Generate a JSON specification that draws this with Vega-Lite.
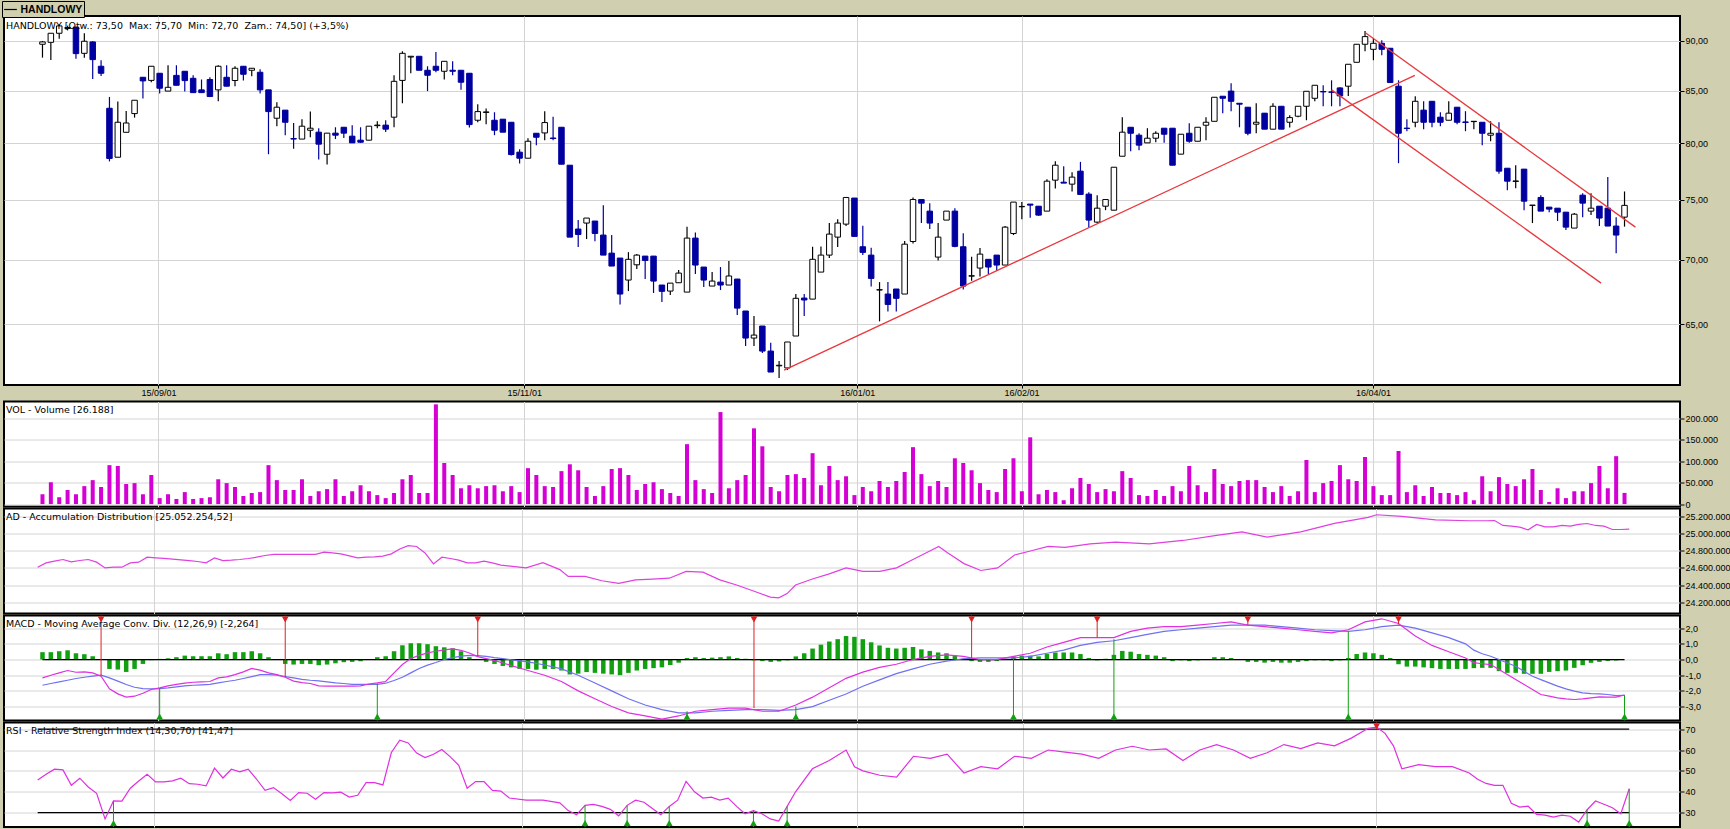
{
"$schema":"https://vega.github.io/schema/vega-lite/v6.json",
"background":"#d0d0b0",
"padding":{"left":1,"top":0,"right":0,"bottom":0},
"config":{
 "locale":{"number":{"decimal":",","thousands":".","grouping":[3],"currency":["",""],"minus":"-"}},
 "view":{"stroke":"black","strokeWidth":2,"fill":"white"},
 "axis":{"labelFont":"Liberation Sans","labelFontSize":9,"labelColor":"black","gridColor":"#d4d4d4","domain":false,"tickColor":"black","tickSize":4,"labelPadding":1,"title":null,"labelOverlap":false,"labelBound":false},
 "title":{"font":"DejaVu Sans","fontSize":9.5,"fontWeight":"normal","anchor":"start","frame":"group","color":"black","baseline":"top","offset":0,"dx":2}
},
"datasets":{
"c":[
{"i":0,"o":89.66,"h":90.0,"l":88.29,"c":89.9,"v":23000},
{"i":1,"o":89.86,"h":90.8,"l":88.04,"c":90.8,"v":51000},
{"i":2,"o":90.8,"h":91.75,"l":90.24,"c":91.57,"v":16000},
{"i":3,"o":91.3,"h":91.6,"l":91.1,"c":91.4,"v":33000},
{"i":4,"o":91.45,"h":91.45,"l":88.19,"c":88.7,"v":23000},
{"i":5,"o":88.73,"h":90.8,"l":88.29,"c":89.97,"v":42000},
{"i":6,"o":89.9,"h":89.97,"l":86.14,"c":88.09,"v":56000},
{"i":7,"o":87.42,"h":88.03,"l":86.45,"c":86.72,"v":40000},
{"i":8,"o":83.3,"h":84.39,"l":78.36,"c":78.63,"v":91000},
{"i":9,"o":78.74,"h":83.94,"l":78.74,"c":81.97,"v":89000},
{"i":10,"o":81.03,"h":83.04,"l":81.03,"c":81.9,"v":47000},
{"i":11,"o":82.79,"h":84.07,"l":82.41,"c":84.07,"v":49000},
{"i":12,"o":86.32,"h":86.32,"l":84.23,"c":85.96,"v":23000},
{"i":13,"o":86.01,"h":87.42,"l":85.82,"c":87.42,"v":68000},
{"i":14,"o":86.72,"h":86.72,"l":84.72,"c":85.24,"v":14000},
{"i":15,"o":84.96,"h":87.52,"l":84.96,"c":85.33,"v":23000},
{"i":16,"o":86.51,"h":87.52,"l":85.53,"c":85.53,"v":12000},
{"i":17,"o":86.92,"h":86.92,"l":84.93,"c":85.99,"v":28000},
{"i":18,"o":86.22,"h":86.51,"l":84.81,"c":84.81,"v":12000},
{"i":19,"o":85.08,"h":86.1,"l":84.81,"c":84.81,"v":14000},
{"i":20,"o":86.1,"h":86.32,"l":84.43,"c":84.43,"v":16000},
{"i":21,"o":85.08,"h":87.52,"l":83.97,"c":87.42,"v":58000},
{"i":22,"o":86.32,"h":87.52,"l":85.44,"c":85.44,"v":49000},
{"i":23,"o":86.0,"h":87.42,"l":85.44,"c":87.22,"v":40000},
{"i":24,"o":87.42,"h":87.42,"l":86.0,"c":86.62,"v":19000},
{"i":25,"o":87.02,"h":87.22,"l":86.42,"c":87.22,"v":26000},
{"i":26,"o":86.82,"h":87.12,"l":84.73,"c":85.08,"v":28000},
{"i":27,"o":85.08,"h":85.08,"l":79.01,"c":82.98,"v":91000},
{"i":28,"o":82.35,"h":83.88,"l":81.6,"c":83.4,"v":56000},
{"i":29,"o":83.12,"h":83.12,"l":80.76,"c":81.97,"v":33000},
{"i":30,"o":80.45,"h":81.9,"l":79.5,"c":80.4,"v":33000},
{"i":31,"o":80.4,"h":82.25,"l":80.4,"c":81.6,"v":58000},
{"i":32,"o":81.22,"h":82.98,"l":80.58,"c":81.41,"v":19000},
{"i":33,"o":81.04,"h":81.41,"l":78.53,"c":79.93,"v":30000},
{"i":34,"o":79.01,"h":80.95,"l":78.08,"c":80.95,"v":35000},
{"i":35,"o":80.95,"h":81.5,"l":80.4,"c":80.76,"v":58000},
{"i":36,"o":81.5,"h":81.5,"l":80.5,"c":80.95,"v":19000},
{"i":37,"o":80.67,"h":81.69,"l":80.05,"c":80.05,"v":30000},
{"i":38,"o":80.3,"h":81.5,"l":80.05,"c":80.11,"v":44000},
{"i":39,"o":80.3,"h":81.6,"l":80.3,"c":81.6,"v":30000},
{"i":40,"o":81.65,"h":82.06,"l":81.41,"c":81.7,"v":21000},
{"i":41,"o":81.7,"h":82.15,"l":81.06,"c":81.32,"v":14000},
{"i":42,"o":82.45,"h":86.52,"l":81.5,"c":85.92,"v":26000},
{"i":43,"o":86.01,"h":88.94,"l":83.78,"c":88.73,"v":58000},
{"i":44,"o":88.35,"h":88.43,"l":86.72,"c":88.43,"v":68000},
{"i":45,"o":88.43,"h":88.43,"l":87.02,"c":87.02,"v":26000},
{"i":46,"o":87.02,"h":87.42,"l":84.96,"c":86.52,"v":26000},
{"i":47,"o":87.42,"h":88.87,"l":86.82,"c":87.02,"v":233000},
{"i":48,"o":86.92,"h":87.92,"l":86.1,"c":87.92,"v":96000},
{"i":49,"o":87.02,"h":87.92,"l":86.52,"c":86.92,"v":68000},
{"i":50,"o":87.02,"h":87.02,"l":85.08,"c":85.83,"v":37000},
{"i":51,"o":86.72,"h":86.72,"l":81.47,"c":81.75,"v":44000},
{"i":52,"o":82.16,"h":83.69,"l":81.97,"c":82.98,"v":37000},
{"i":53,"o":82.9,"h":83.27,"l":81.79,"c":82.95,"v":42000},
{"i":54,"o":82.16,"h":82.92,"l":80.76,"c":81.22,"v":44000},
{"i":55,"o":82.26,"h":82.26,"l":81.04,"c":81.04,"v":30000},
{"i":56,"o":81.97,"h":81.97,"l":78.89,"c":78.98,"v":42000},
{"i":57,"o":79.2,"h":79.47,"l":78.17,"c":78.65,"v":28000},
{"i":58,"o":78.65,"h":80.48,"l":78.65,"c":80.2,"v":84000},
{"i":59,"o":80.94,"h":80.94,"l":79.84,"c":80.57,"v":68000},
{"i":60,"o":80.97,"h":83.02,"l":80.3,"c":81.94,"v":42000},
{"i":61,"o":80.5,"h":82.48,"l":80.3,"c":80.45,"v":40000},
{"i":62,"o":81.5,"h":81.5,"l":78.11,"c":78.11,"v":77000},
{"i":63,"o":78.02,"h":78.02,"l":71.83,"c":71.83,"v":93000},
{"i":64,"o":72.5,"h":73.25,"l":71.01,"c":72.05,"v":79000},
{"i":65,"o":73.0,"h":73.42,"l":71.67,"c":73.42,"v":40000},
{"i":66,"o":73.17,"h":73.17,"l":71.48,"c":72.13,"v":19000},
{"i":67,"o":72.0,"h":74.52,"l":70.36,"c":70.36,"v":42000},
{"i":68,"o":70.52,"h":72.0,"l":69.48,"c":69.48,"v":82000},
{"i":69,"o":70.12,"h":70.12,"l":66.48,"c":67.28,"v":84000},
{"i":70,"o":68.37,"h":70.6,"l":67.51,"c":70.02,"v":68000},
{"i":71,"o":69.58,"h":70.44,"l":69.24,"c":70.36,"v":33000},
{"i":72,"o":70.28,"h":70.28,"l":68.45,"c":69.93,"v":47000},
{"i":73,"o":70.28,"h":70.28,"l":67.36,"c":68.29,"v":51000},
{"i":74,"o":67.98,"h":67.98,"l":66.66,"c":67.49,"v":35000},
{"i":75,"o":67.51,"h":68.13,"l":67.2,"c":68.13,"v":26000},
{"i":76,"o":68.16,"h":69.16,"l":68.16,"c":68.92,"v":19000},
{"i":77,"o":67.43,"h":72.69,"l":67.43,"c":71.75,"v":140000},
{"i":78,"o":71.75,"h":72.22,"l":68.84,"c":69.56,"v":56000},
{"i":79,"o":69.4,"h":69.4,"l":67.82,"c":68.37,"v":35000},
{"i":80,"o":67.9,"h":69.0,"l":67.9,"c":68.29,"v":26000},
{"i":81,"o":68.21,"h":69.4,"l":67.59,"c":67.98,"v":215000},
{"i":82,"o":67.98,"h":69.88,"l":67.98,"c":68.69,"v":37000},
{"i":83,"o":68.45,"h":68.45,"l":65.67,"c":66.2,"v":56000},
{"i":84,"o":65.98,"h":65.98,"l":63.38,"c":63.96,"v":68000},
{"i":85,"o":63.96,"h":65.6,"l":63.38,"c":64.18,"v":177000},
{"i":86,"o":64.85,"h":64.85,"l":62.87,"c":63.01,"v":135000},
{"i":87,"o":63.01,"h":63.62,"l":61.51,"c":61.51,"v":40000},
{"i":88,"o":61.95,"h":62.3,"l":61.09,"c":61.99,"v":30000},
{"i":89,"o":61.8,"h":63.67,"l":61.65,"c":63.67,"v":68000},
{"i":90,"o":64.11,"h":67.28,"l":64.11,"c":66.95,"v":70000},
{"i":91,"o":66.97,"h":67.28,"l":65.6,"c":66.82,"v":61000},
{"i":92,"o":66.89,"h":71.04,"l":66.89,"c":70.02,"v":119000},
{"i":93,"o":69.0,"h":71.06,"l":69.0,"c":70.36,"v":44000},
{"i":94,"o":70.36,"h":73.0,"l":70.12,"c":72.08,"v":89000},
{"i":95,"o":71.83,"h":73.33,"l":71.01,"c":73.0,"v":56000},
{"i":96,"o":72.91,"h":75.18,"l":72.75,"c":75.18,"v":65000},
{"i":97,"o":75.13,"h":75.13,"l":71.89,"c":71.89,"v":21000},
{"i":98,"o":71.04,"h":72.77,"l":70.36,"c":70.58,"v":40000},
{"i":99,"o":70.36,"h":70.96,"l":67.87,"c":68.5,"v":30000},
{"i":100,"o":67.59,"h":68.21,"l":65.2,"c":67.62,"v":54000},
{"i":101,"o":67.28,"h":68.21,"l":65.95,"c":66.48,"v":40000},
{"i":102,"o":67.67,"h":67.67,"l":65.95,"c":66.95,"v":54000},
{"i":103,"o":67.28,"h":71.5,"l":67.28,"c":71.25,"v":75000},
{"i":104,"o":71.47,"h":75.18,"l":71.31,"c":75.0,"v":133000},
{"i":105,"o":75.0,"h":75.0,"l":73.0,"c":74.69,"v":70000},
{"i":106,"o":74.01,"h":74.69,"l":72.5,"c":73.0,"v":42000},
{"i":107,"o":70.2,"h":73.0,"l":69.93,"c":71.83,"v":54000},
{"i":108,"o":73.25,"h":74.01,"l":73.25,"c":74.01,"v":40000},
{"i":109,"o":74.01,"h":74.26,"l":71.0,"c":71.07,"v":107000},
{"i":110,"o":71.04,"h":72.16,"l":67.64,"c":67.9,"v":96000},
{"i":111,"o":68.68,"h":70.23,"l":68.32,"c":68.71,"v":79000},
{"i":112,"o":69.32,"h":70.93,"l":68.66,"c":70.44,"v":49000},
{"i":113,"o":70.02,"h":70.02,"l":68.84,"c":69.4,"v":33000},
{"i":114,"o":70.36,"h":70.36,"l":69.08,"c":69.56,"v":28000},
{"i":115,"o":69.56,"h":72.75,"l":69.56,"c":72.66,"v":82000},
{"i":116,"o":72.13,"h":74.78,"l":72.0,"c":74.78,"v":107000},
{"i":117,"o":74.38,"h":74.78,"l":73.33,"c":74.41,"v":30000},
{"i":118,"o":74.61,"h":74.61,"l":73.44,"c":74.52,"v":156000},
{"i":119,"o":74.43,"h":74.43,"l":73.61,"c":73.67,"v":23000},
{"i":120,"o":74.01,"h":76.78,"l":74.01,"c":76.6,"v":33000},
{"i":121,"o":76.69,"h":78.38,"l":75.96,"c":78.02,"v":28000},
{"i":122,"o":76.51,"h":77.93,"l":76.43,"c":76.43,"v":9000},
{"i":123,"o":76.34,"h":77.4,"l":75.7,"c":76.96,"v":37000},
{"i":124,"o":77.49,"h":78.32,"l":75.44,"c":75.44,"v":61000},
{"i":125,"o":75.47,"h":75.64,"l":72.66,"c":73.25,"v":47000},
{"i":126,"o":73.08,"h":75.38,"l":73.0,"c":74.26,"v":28000},
{"i":127,"o":74.43,"h":75.0,"l":74.09,"c":75.0,"v":35000},
{"i":128,"o":74.09,"h":77.84,"l":74.09,"c":77.84,"v":30000},
{"i":129,"o":78.83,"h":82.45,"l":78.83,"c":81.04,"v":77000},
{"i":130,"o":81.5,"h":81.5,"l":79.29,"c":80.94,"v":61000},
{"i":131,"o":80.76,"h":80.94,"l":79.38,"c":79.84,"v":21000},
{"i":132,"o":80.05,"h":81.41,"l":80.05,"c":80.48,"v":19000},
{"i":133,"o":80.48,"h":81.13,"l":80.11,"c":80.94,"v":33000},
{"i":134,"o":81.41,"h":81.41,"l":80.05,"c":80.85,"v":19000},
{"i":135,"o":81.41,"h":81.41,"l":78.02,"c":78.02,"v":42000},
{"i":136,"o":79.02,"h":80.85,"l":79.02,"c":80.85,"v":30000},
{"i":137,"o":80.94,"h":81.88,"l":80.05,"c":80.2,"v":89000},
{"i":138,"o":80.2,"h":81.5,"l":80.2,"c":81.5,"v":44000},
{"i":139,"o":81.69,"h":82.45,"l":80.3,"c":81.97,"v":28000},
{"i":140,"o":82.06,"h":84.36,"l":82.06,"c":84.36,"v":82000},
{"i":141,"o":84.46,"h":84.46,"l":82.83,"c":84.26,"v":47000},
{"i":142,"o":84.96,"h":85.73,"l":83.02,"c":83.97,"v":42000},
{"i":143,"o":83.78,"h":83.78,"l":81.5,"c":83.69,"v":54000},
{"i":144,"o":83.4,"h":83.4,"l":80.76,"c":80.94,"v":56000},
{"i":145,"o":81.79,"h":83.78,"l":80.94,"c":81.97,"v":56000},
{"i":146,"o":82.83,"h":82.83,"l":81.32,"c":81.32,"v":40000},
{"i":147,"o":81.32,"h":83.78,"l":81.32,"c":83.49,"v":28000},
{"i":148,"o":83.49,"h":83.49,"l":81.32,"c":81.32,"v":42000},
{"i":149,"o":81.97,"h":82.64,"l":81.47,"c":82.41,"v":19000},
{"i":150,"o":82.54,"h":83.49,"l":82.45,"c":83.49,"v":30000},
{"i":151,"o":83.49,"h":84.94,"l":82.16,"c":84.94,"v":103000},
{"i":152,"o":84.26,"h":85.53,"l":83.97,"c":85.53,"v":28000},
{"i":153,"o":84.92,"h":85.53,"l":83.49,"c":84.88,"v":49000},
{"i":154,"o":84.88,"h":86.02,"l":83.49,"c":84.84,"v":54000},
{"i":155,"o":85.27,"h":85.33,"l":83.49,"c":84.49,"v":91000},
{"i":156,"o":85.44,"h":87.62,"l":84.49,"c":87.62,"v":58000},
{"i":157,"o":87.82,"h":89.66,"l":87.82,"c":89.66,"v":54000},
{"i":158,"o":89.66,"h":91.04,"l":88.94,"c":90.45,"v":110000},
{"i":159,"o":89.14,"h":90.28,"l":88.03,"c":89.76,"v":42000},
{"i":160,"o":89.76,"h":90.07,"l":88.53,"c":89.14,"v":21000},
{"i":161,"o":89.25,"h":89.25,"l":85.8,"c":85.8,"v":21000},
{"i":162,"o":85.44,"h":86.02,"l":78.2,"c":80.94,"v":124000},
{"i":163,"o":81.42,"h":82.26,"l":81.13,"c":81.38,"v":28000},
{"i":164,"o":81.97,"h":84.46,"l":81.5,"c":83.97,"v":44000},
{"i":165,"o":83.12,"h":83.97,"l":81.32,"c":81.97,"v":19000},
{"i":166,"o":83.97,"h":83.97,"l":81.5,"c":81.97,"v":40000},
{"i":167,"o":82.45,"h":82.92,"l":81.6,"c":81.97,"v":26000},
{"i":168,"o":82.16,"h":83.97,"l":82.16,"c":82.83,"v":26000},
{"i":169,"o":83.4,"h":83.4,"l":81.79,"c":81.97,"v":21000},
{"i":170,"o":82.0,"h":83.02,"l":81.13,"c":81.95,"v":28000},
{"i":171,"o":82.03,"h":82.06,"l":81.32,"c":82.06,"v":9000},
{"i":172,"o":81.97,"h":81.97,"l":79.84,"c":80.94,"v":65000},
{"i":173,"o":80.76,"h":82.06,"l":80.2,"c":80.94,"v":30000},
{"i":174,"o":80.94,"h":81.97,"l":77.26,"c":77.49,"v":63000},
{"i":175,"o":77.75,"h":77.75,"l":75.81,"c":76.6,"v":47000},
{"i":176,"o":76.58,"h":78.02,"l":75.99,"c":76.62,"v":42000},
{"i":177,"o":77.67,"h":77.67,"l":74.09,"c":74.86,"v":58000},
{"i":178,"o":74.5,"h":74.52,"l":73.0,"c":74.52,"v":82000},
{"i":179,"o":75.18,"h":75.38,"l":74.01,"c":74.01,"v":33000},
{"i":180,"o":74.35,"h":74.35,"l":73.92,"c":74.18,"v":5000},
{"i":181,"o":74.26,"h":74.26,"l":73.17,"c":73.92,"v":37000},
{"i":182,"o":73.92,"h":73.92,"l":72.41,"c":72.66,"v":14000},
{"i":183,"o":72.58,"h":73.84,"l":72.58,"c":73.75,"v":30000},
{"i":184,"o":75.38,"h":75.55,"l":73.5,"c":74.69,"v":30000},
{"i":185,"o":74.01,"h":75.55,"l":73.67,"c":74.26,"v":49000},
{"i":186,"o":74.43,"h":74.43,"l":72.75,"c":73.42,"v":89000},
{"i":187,"o":74.26,"h":76.96,"l":72.75,"c":72.75,"v":37000},
{"i":188,"o":72.75,"h":73.5,"l":70.52,"c":72.0,"v":112000},
{"i":189,"o":73.5,"h":75.7,"l":72.7,"c":74.5,"v":26188}
],
"tl":[
{"x1":88.6,"y1":61.65,"x2":163.95,"y2":86.51},
{"x1":158.0,"y1":90.87,"x2":190.3,"y2":72.66},
{"x1":154.0,"y1":85.08,"x2":186.2,"y2":68.13}
],
"ad":[
{"i":0,"a":24608000},{"i":1,"a":24659000},{"i":2,"a":24678000},{"i":3,"a":24698000},{"i":4,"a":24670000},{"i":5,"a":24686000},{"i":6,"a":24698000},{"i":7,"a":24667000},{"i":8,"a":24600000},{"i":9,"a":24608000},{"i":10,"a":24608000},{"i":11,"a":24659000},{"i":12,"a":24667000},{"i":13,"a":24725000},{"i":14,"a":24717000},{"i":15,"a":24710000},{"i":16,"a":24702000},{"i":17,"a":24694000},{"i":18,"a":24686000},{"i":19,"a":24675000},{"i":20,"a":24659000},{"i":21,"a":24717000},{"i":22,"a":24686000},{"i":23,"a":24690000},{"i":24,"a":24698000},{"i":25,"a":24710000},{"i":26,"a":24725000},{"i":27,"a":24745000},{"i":28,"a":24757000},{"i":29,"a":24757000},{"i":30,"a":24757000},{"i":31,"a":24757000},{"i":32,"a":24757000},{"i":33,"a":24757000},{"i":34,"a":24783000},{"i":35,"a":24775000},{"i":36,"a":24764000},{"i":37,"a":24740000},{"i":38,"a":24717000},{"i":39,"a":24725000},{"i":40,"a":24729000},{"i":41,"a":24737000},{"i":42,"a":24764000},{"i":43,"a":24820000},{"i":44,"a":24860000},{"i":45,"a":24850000},{"i":46,"a":24775000},{"i":47,"a":24647000},{"i":48,"a":24725000},{"i":49,"a":24710000},{"i":50,"a":24690000},{"i":51,"a":24659000},{"i":52,"a":24659000},{"i":53,"a":24678000},{"i":54,"a":24659000},{"i":55,"a":24632000},
{"i":58,"a":24600000},{"i":60,"a":24660000},{"i":62,"a":24580000},{"i":63,"a":24500000},{"i":65,"a":24500000},{"i":67,"a":24450000},{"i":69,"a":24420000},{"i":71,"a":24460000},{"i":73,"a":24470000},{"i":75,"a":24480000},{"i":77,"a":24560000},{"i":79,"a":24550000},{"i":81,"a":24460000},{"i":83,"a":24400000},{"i":85,"a":24330000},{"i":87,"a":24260000},{"i":88,"a":24250000},{"i":89,"a":24300000},{"i":90,"a":24400000},{"i":92,"a":24470000},{"i":94,"a":24530000},{"i":96,"a":24600000},{"i":98,"a":24560000},{"i":100,"a":24560000},{"i":102,"a":24600000},{"i":104,"a":24700000},{"i":106,"a":24800000},{"i":107,"a":24850000},{"i":108,"a":24780000},{"i":110,"a":24650000},{"i":112,"a":24570000},{"i":114,"a":24600000},{"i":116,"a":24750000},{"i":118,"a":24800000},{"i":120,"a":24850000},{"i":122,"a":24840000},{"i":125,"a":24880000},{"i":128,"a":24900000},{"i":132,"a":24880000},{"i":136,"a":24920000},{"i":140,"a":24980000},{"i":143,"a":25020000},{"i":146,"a":24960000},{"i":150,"a":25020000},{"i":154,"a":25120000},{"i":158,"a":25190000},{"i":159,"a":25220000},{"i":162,"a":25200000},{"i":166,"a":25160000},{"i":170,"a":25150000},
{"i":172,"a":25150000},{"i":173,"a":25153000},{"i":174,"a":25095000},{"i":175,"a":25087000},{"i":176,"a":25075000},{"i":177,"a":25044000},{"i":178,"a":25107000},{"i":179,"a":25079000},{"i":180,"a":25079000},{"i":181,"a":25095000},{"i":182,"a":25087000},{"i":183,"a":25107000},{"i":184,"a":25118000},{"i":185,"a":25095000},{"i":186,"a":25087000},{"i":187,"a":25048000},{"i":188,"a":25048000},{"i":189,"a":25052254}
],
"m":[
{"i":0,"m":-1.17,"s":-1.64},{"i":1,"m":-1.0,"s":-1.53},{"i":2,"m":-0.85,"s":-1.43},{"i":3,"m":-0.7,"s":-1.32},{"i":4,"m":-0.81,"s":-1.21},{"i":5,"m":-0.79,"s":-1.13},{"i":6,"m":-0.85,"s":-1.06},{"i":7,"m":-1.06,"s":-1.0},{"i":8,"m":-1.87,"s":-1.17},{"i":9,"m":-2.19,"s":-1.38},{"i":10,"m":-2.4,"s":-1.59},{"i":11,"m":-2.34,"s":-1.77},{"i":12,"m":-2.15,"s":-1.85},{"i":13,"m":-1.91,"s":-1.87},{"i":14,"m":-1.81,"s":-1.85},{"i":15,"m":-1.68,"s":-1.81},{"i":16,"m":-1.59,"s":-1.75},{"i":17,"m":-1.51,"s":-1.68},{"i":18,"m":-1.45,"s":-1.64},{"i":19,"m":-1.43,"s":-1.62},{"i":20,"m":-1.4,"s":-1.59},{"i":21,"m":-1.17,"s":-1.49},{"i":22,"m":-1.11,"s":-1.4},{"i":23,"m":-0.96,"s":-1.32},{"i":24,"m":-0.79,"s":-1.21},{"i":25,"m":-0.57,"s":-1.09},{"i":26,"m":-0.68,"s":-0.96},{"i":27,"m":-0.85,"s":-0.96},{"i":28,"m":-0.96,"s":-1.0},{"i":29,"m":-1.13,"s":-1.09},{"i":30,"m":-1.38,"s":-1.17},{"i":31,"m":-1.47,"s":-1.26},{"i":32,"m":-1.53,"s":-1.32},{"i":33,"m":-1.68,"s":-1.36},{"i":34,"m":-1.7,"s":-1.43},{"i":35,"m":-1.7,"s":-1.49},{"i":36,"m":-1.7,"s":-1.53},{"i":37,"m":-1.7,"s":-1.58},{"i":38,"m":-1.68,"s":-1.59},{"i":39,"m":-1.56,"s":-1.59},{"i":40,"m":-1.49,"s":-1.58},{"i":41,"m":-1.4,"s":-1.51},{"i":42,"m":-0.85,"s":-1.34},{"i":43,"m":-0.32,"s":-1.13},{"i":44,"m":0.06,"s":-0.85},{"i":45,"m":0.27,"s":-0.57},{"i":46,"m":0.42,"s":-0.36},{"i":47,"m":0.53,"s":-0.19},{"i":48,"m":0.62,"s":0.0},{"i":49,"m":0.68,"s":0.12},{"i":50,"m":0.59,"s":0.22},{"i":51,"m":0.42,"s":0.27},{"i":52,"m":0.19,"s":0.25},{"i":53,"m":0.06,"s":0.2},{"i":54,"m":-0.06,"s":0.12},{"i":55,"m":-0.22,"s":0.06},
{"i":58,"m":-0.7,"s":-0.15},{"i":60,"m":-1.0,"s":-0.35},{"i":62,"m":-1.4,"s":-0.6},{"i":64,"m":-2.0,"s":-1.0},{"i":66,"m":-2.5,"s":-1.5},{"i":68,"m":-3.0,"s":-2.0},{"i":70,"m":-3.4,"s":-2.5},{"i":72,"m":-3.6,"s":-2.9},{"i":74,"m":-3.8,"s":-3.2},{"i":76,"m":-3.6,"s":-3.4},{"i":78,"m":-3.3,"s":-3.4},{"i":80,"m":-3.2,"s":-3.3},{"i":82,"m":-3.1,"s":-3.25},{"i":84,"m":-3.1,"s":-3.2},{"i":86,"m":-3.3,"s":-3.2},{"i":88,"m":-3.3,"s":-3.25},{"i":90,"m":-2.9,"s":-3.2},{"i":92,"m":-2.4,"s":-3.0},{"i":94,"m":-1.8,"s":-2.6},{"i":96,"m":-1.2,"s":-2.2},{"i":98,"m":-0.8,"s":-1.7},{"i":100,"m":-0.5,"s":-1.3},{"i":102,"m":-0.3,"s":-0.9},{"i":104,"m":0.0,"s":-0.6},{"i":106,"m":0.2,"s":-0.3},{"i":108,"m":0.3,"s":-0.1},{"i":110,"m":0.2,"s":0.05},{"i":112,"m":0.0,"s":0.1},{"i":114,"m":0.0,"s":0.1},{"i":116,"m":0.2,"s":0.1},{"i":118,"m":0.4,"s":0.2},{"i":120,"m":0.8,"s":0.4},{"i":122,"m":1.1,"s":0.6},{"i":124,"m":1.4,"s":0.9},{"i":126,"m":1.4,"s":1.1},{"i":128,"m":1.4,"s":1.2},{"i":130,"m":1.8,"s":1.4},{"i":132,"m":2.0,"s":1.6},{"i":134,"m":2.1,"s":1.8},{"i":136,"m":2.1,"s":1.9},{"i":138,"m":2.2,"s":2.0},{"i":140,"m":2.3,"s":2.1},{"i":142,"m":2.4,"s":2.2},{"i":144,"m":2.2,"s":2.2},{"i":146,"m":2.1,"s":2.2},{"i":148,"m":2.0,"s":2.1},{"i":150,"m":1.9,"s":2.0},{"i":152,"m":1.8,"s":1.9},{"i":154,"m":1.7,"s":1.85},{"i":156,"m":1.9,"s":1.8},{"i":158,"m":2.4,"s":1.9},{"i":160,"m":2.6,"s":2.1},{"i":162,"m":2.3,"s":2.2},{"i":164,"m":1.5,"s":2.0},{"i":166,"m":0.9,"s":1.7},{"i":168,"m":0.5,"s":1.4},{"i":170,"m":0.1,"s":1.0},{"i":171,"m":-0.2,"s":0.6},
{"i":172,"m":-0.27,"s":0.37},{"i":173,"m":-0.32,"s":0.21},{"i":174,"m":-0.64,"s":0.0},{"i":175,"m":-0.96,"s":-0.22},{"i":176,"m":-1.28,"s":-0.43},{"i":177,"m":-1.59,"s":-0.75},{"i":178,"m":-1.91,"s":-1.07},{"i":179,"m":-2.23,"s":-1.28},{"i":180,"m":-2.34,"s":-1.49},{"i":181,"m":-2.45,"s":-1.7},{"i":182,"m":-2.51,"s":-1.87},{"i":183,"m":-2.55,"s":-2.02},{"i":184,"m":-2.51,"s":-2.13},{"i":185,"m":-2.45,"s":-2.17},{"i":186,"m":-2.38,"s":-2.19},{"i":187,"m":-2.4,"s":-2.23},{"i":188,"m":-2.4,"s":-2.3},{"i":189,"m":-2.264,"s":-2.28}
],
"hh":[
{"i":0,"h":0.47},{"i":1,"h":0.47},{"i":2,"h":0.53},{"i":3,"h":0.59},{"i":4,"h":0.4},{"i":5,"h":0.34},{"i":6,"h":0.21},{"i":8,"h":-0.6},{"i":9,"h":-0.64},{"i":10,"h":-0.79},{"i":11,"h":-0.6},{"i":12,"h":-0.28},{"i":13,"h":-0.04},{"i":14,"h":0.04},{"i":15,"h":0.08},{"i":16,"h":0.15},{"i":17,"h":0.25},{"i":18,"h":0.21},{"i":19,"h":0.21},{"i":20,"h":0.21},{"i":21,"h":0.4},{"i":22,"h":0.34},{"i":23,"h":0.47},{"i":24,"h":0.47},{"i":25,"h":0.53},{"i":26,"h":0.4},{"i":27,"h":0.15},{"i":28,"h":0.02},{"i":29,"h":-0.28},{"i":30,"h":-0.32},{"i":31,"h":-0.28},{"i":32,"h":-0.28},{"i":33,"h":-0.36},{"i":34,"h":-0.32},{"i":35,"h":-0.24},{"i":36,"h":-0.17},{"i":37,"h":-0.15},{"i":38,"h":-0.11},{"i":39,"h":-0.02},{"i":40,"h":0.15},{"i":41,"h":0.21},{"i":42,"h":0.53},{"i":43,"h":0.91},{"i":44,"h":1.04},{"i":45,"h":1.04},{"i":46,"h":0.98},{"i":47,"h":0.85},{"i":48,"h":0.78},{"i":49,"h":0.72},{"i":50,"h":0.53},{"i":51,"h":0.15},{"i":52,"h":-0.02},{"i":53,"h":-0.15},{"i":54,"h":-0.28},{"i":55,"h":-0.41},
{"i":56,"h":-0.5},{"i":57,"h":-0.6},{"i":58,"h":-0.6},{"i":59,"h":-0.65},{"i":60,"h":-0.6},{"i":61,"h":-0.6},{"i":62,"h":-0.7},{"i":63,"h":-0.95},{"i":64,"h":-0.9},{"i":65,"h":-0.8},{"i":66,"h":-0.85},{"i":67,"h":-0.9},{"i":68,"h":-0.95},{"i":69,"h":-1.0},{"i":70,"h":-0.85},{"i":71,"h":-0.7},{"i":72,"h":-0.6},{"i":73,"h":-0.55},{"i":74,"h":-0.5},{"i":75,"h":-0.35},{"i":76,"h":-0.2},{"i":77,"h":0.1},{"i":78,"h":0.15},{"i":79,"h":0.1},{"i":80,"h":0.12},{"i":81,"h":0.15},{"i":82,"h":0.2},{"i":83,"h":0.1},{"i":84,"h":0.05},{"i":85,"h":-0.05},{"i":86,"h":-0.1},{"i":87,"h":-0.15},{"i":88,"h":-0.12},{"i":89,"h":-0.05},{"i":90,"h":0.2},{"i":91,"h":0.4},{"i":92,"h":0.7},{"i":93,"h":0.95},{"i":94,"h":1.15},{"i":95,"h":1.3},{"i":96,"h":1.5},{"i":97,"h":1.45},{"i":98,"h":1.3},{"i":99,"h":1.1},{"i":100,"h":0.9},{"i":101,"h":0.75},{"i":102,"h":0.7},{"i":103,"h":0.75},{"i":104,"h":0.8},{"i":105,"h":0.65},{"i":106,"h":0.55},{"i":107,"h":0.45},{"i":108,"h":0.4},{"i":109,"h":0.25},{"i":110,"h":0.05},{"i":111,"h":-0.1},{"i":112,"h":-0.15},{"i":113,"h":-0.15},{"i":114,"h":-0.1},{"i":115,"h":0.05},{"i":116,"h":0.2},{"i":117,"h":0.25},{"i":118,"h":0.25},{"i":119,"h":0.2},{"i":120,"h":0.35},{"i":121,"h":0.45},{"i":122,"h":0.45},{"i":123,"h":0.45},{"i":124,"h":0.35},{"i":125,"h":0.1},{"i":126,"h":-0.05},{"i":127,"h":0.05},{"i":128,"h":0.3},{"i":129,"h":0.55},{"i":130,"h":0.5},{"i":131,"h":0.35},{"i":132,"h":0.3},{"i":133,"h":0.25},{"i":134,"h":0.15},{"i":135,"h":-0.1},{"i":136,"h":-0.05},{"i":137,"h":-0.1},{"i":138,"h":-0.05},{"i":140,"h":0.15},{"i":141,"h":0.15},{"i":142,"h":0.1},{"i":144,"h":-0.15},{"i":145,"h":-0.15},{"i":146,"h":-0.2},{"i":147,"h":-0.15},{"i":148,"h":-0.2},{"i":149,"h":-0.2},{"i":150,"h":-0.15},{"i":151,"h":-0.1},{"i":152,"h":-0.05},{"i":153,"h":-0.05},{"i":154,"h":-0.1},{"i":155,"h":-0.05},{"i":156,"h":0.1},{"i":157,"h":0.35},{"i":158,"h":0.45},{"i":159,"h":0.4},{"i":160,"h":0.3},{"i":161,"h":0.1},{"i":162,"h":-0.3},{"i":163,"h":-0.45},{"i":164,"h":-0.45},{"i":165,"h":-0.5},{"i":166,"h":-0.55},{"i":167,"h":-0.6},{"i":168,"h":-0.6},{"i":169,"h":-0.6},{"i":170,"h":-0.6},{"i":171,"h":-0.55},
{"i":172,"h":-0.53},{"i":173,"h":-0.53},{"i":174,"h":-0.74},{"i":175,"h":-0.85},{"i":176,"h":-0.85},{"i":177,"h":-0.91},{"i":178,"h":-0.91},{"i":179,"h":-0.91},{"i":180,"h":-0.79},{"i":181,"h":-0.74},{"i":182,"h":-0.7},{"i":183,"h":-0.53},{"i":184,"h":-0.36},{"i":185,"h":-0.21},{"i":186,"h":-0.15},{"i":187,"h":-0.09},{"i":188,"h":-0.06}
],
"ms":[
{"i":7,"y":-1.03,"k":"r"},{"i":29,"y":-1.11,"k":"r"},{"i":52,"y":0.22,"k":"r"},{"i":85,"y":-3.1,"k":"r"},{"i":111,"y":0.1,"k":"r"},{"i":126,"y":1.4,"k":"r"},{"i":144,"y":2.2,"k":"r"},{"i":162,"y":2.25,"k":"r"},
{"i":14,"y":-1.83,"k":"g"},{"i":40,"y":-1.53,"k":"g"},{"i":77,"y":-3.3,"k":"g"},{"i":90,"y":-3.0,"k":"g"},{"i":116,"y":0.15,"k":"g"},{"i":128,"y":1.3,"k":"g"},{"i":156,"y":1.8,"k":"g"},{"i":189,"y":-2.27,"k":"g"}
],
"r":[
{"i":0,"r":45.7},{"i":1,"r":48.4},{"i":2,"r":50.8},{"i":3,"r":50.5},{"i":4,"r":43.1},{"i":5,"r":46.5},{"i":6,"r":42.3},{"i":7,"r":39.3},{"i":8,"r":27.0},{"i":9,"r":35.6},{"i":10,"r":35.5},{"i":11,"r":41.7},{"i":12,"r":45.2},{"i":13,"r":48.4},{"i":14,"r":44.7},{"i":15,"r":44.7},{"i":16,"r":45.2},{"i":17,"r":46.5},{"i":18,"r":43.9},{"i":19,"r":43.6},{"i":20,"r":42.8},{"i":21,"r":51.3},{"i":22,"r":46.6},{"i":23,"r":50.8},{"i":24,"r":49.5},{"i":25,"r":50.8},{"i":26,"r":46.0},{"i":27,"r":40.7},{"i":28,"r":42.0},{"i":29,"r":39.1},{"i":30,"r":35.9},{"i":31,"r":39.6},{"i":32,"r":39.3},{"i":33,"r":36.4},{"i":34,"r":39.6},{"i":35,"r":39.5},{"i":36,"r":39.8},{"i":37,"r":37.5},{"i":38,"r":38.3},{"i":39,"r":44.4},{"i":40,"r":44.4},{"i":41,"r":43.3},{"i":42,"r":58.8},{"i":43,"r":64.7},{"i":44,"r":63.4},{"i":45,"r":58.5},{"i":46,"r":56.4},{"i":47,"r":58.0},{"i":48,"r":60.2},{"i":49,"r":56.7},{"i":50,"r":52.7},{"i":51,"r":41.7},{"i":52,"r":44.9},{"i":53,"r":44.9},{"i":54,"r":40.7},{"i":55,"r":40.3},
{"i":56,"r":37},{"i":58,"r":36},{"i":60,"r":36},{"i":62,"r":34.7},{"i":63,"r":31},{"i":64,"r":29},{"i":65,"r":33.5},{"i":66,"r":34},{"i":67,"r":33},{"i":68,"r":31.6},{"i":69,"r":28.5},{"i":70,"r":33.5},{"i":71,"r":36},{"i":72,"r":35},{"i":73,"r":32},{"i":74,"r":29},{"i":75,"r":33},{"i":76,"r":36},{"i":77,"r":45},{"i":78,"r":40},{"i":79,"r":37},{"i":80,"r":37.4},{"i":81,"r":36},{"i":82,"r":37},{"i":83,"r":33},{"i":84,"r":29.5},{"i":85,"r":31},{"i":86,"r":29.5},{"i":87,"r":27},{"i":88,"r":26},{"i":89,"r":33},{"i":90,"r":40},{"i":92,"r":51},{"i":94,"r":55},{"i":96,"r":60},{"i":97,"r":52},{"i":98,"r":50},{"i":100,"r":47.9},{"i":102,"r":47},{"i":104,"r":57},{"i":106,"r":56},{"i":108,"r":58},{"i":110,"r":49},{"i":112,"r":52},{"i":114,"r":51},{"i":116,"r":57},{"i":118,"r":56},{"i":120,"r":60},{"i":122,"r":59},{"i":124,"r":58},{"i":126,"r":56},{"i":128,"r":60},{"i":130,"r":61.8},{"i":132,"r":60},{"i":134,"r":60.5},{"i":136,"r":55},{"i":138,"r":60},{"i":140,"r":62.6},{"i":142,"r":60},{"i":144,"r":56},{"i":146,"r":58.7},{"i":148,"r":62.6},{"i":150,"r":60.7},{"i":152,"r":63.4},{"i":154,"r":62},{"i":156,"r":65.7},{"i":158,"r":70.4},{"i":159,"r":71},{"i":160,"r":68},{"i":161,"r":62},{"i":162,"r":51},{"i":164,"r":53},{"i":166,"r":52},{"i":168,"r":52},{"i":170,"r":49},{"i":171,"r":46},
{"i":172,"r":44.0},{"i":173,"r":43.1},{"i":174,"r":43.1},{"i":175,"r":34.5},{"i":176,"r":32.7},{"i":177,"r":33.1},{"i":178,"r":29.2},{"i":179,"r":28.8},{"i":180,"r":27.9},{"i":181,"r":28.8},{"i":182,"r":28.3},{"i":183,"r":25.5},{"i":184,"r":31.4},{"i":185,"r":35.6},{"i":186,"r":34.0},{"i":187,"r":32.4},{"i":188,"r":29.5},{"i":189,"r":41.47}
],
"rs":[
{"i":9,"y":35.6,"k":"g"},{"i":65,"y":33.5,"k":"g"},{"i":70,"y":33.5,"k":"g"},{"i":75,"y":33,"k":"g"},{"i":85,"y":31,"k":"g"},{"i":89,"y":33,"k":"g"},{"i":184,"y":31.4,"k":"g"},{"i":189,"y":41.47,"k":"g"},{"i":159,"y":71,"k":"r"}
]
},
"vconcat":[
{
 "width":1676,"height":369,
 "title":{"text":"HANDLOWY [Otw.: 73,50 \u00a0Max: 75,70 \u00a0Min: 72,70 \u00a0Zam.: 74,50] (+3,5%)","dy":18},
 "data":{"name":"c"},
 "layer":[
  {"mark":{"type":"rule","strokeWidth":1.2},
   "encoding":{
    "x":{"field":"i","type":"quantitative","scale":{"domain":[-4,195.03],"nice":false,"zero":false},
         "axis":{"values":[13.85,57.55,97.33,116.97,158.96],"grid":true,"tickSize":3,"labelPadding":0,"labelOverlap":false,"labelExpr":"datum.value < 30 ? '15/09/01' : datum.value < 80 ? '15/11/01' : datum.value < 105 ? '16/01/01' : datum.value < 140 ? '16/02/01' : '16/04/01'"}},
    "y":{"field":"l","type":"quantitative","scale":{"type":"log","domain":[60.6,92.62],"nice":false,"zero":false},
         "axis":{"orient":"right","values":[65,70,75,80,85,90],"format":",.2f","grid":true,"labelOverlap":false}},
    "y2":{"field":"h"},
    "color":{"condition":{"test":"datum.c >= datum.o","value":"black"},"value":"#0000a0"}}},
  {"mark":{"type":"bar","width":5.5,"strokeWidth":1},
   "encoding":{
    "x":{"field":"i","type":"quantitative"},
    "y":{"field":"o","type":"quantitative"},
    "y2":{"field":"c"},
    "fill":{"condition":{"test":"datum.c >= datum.o","value":"white"},"value":"#0000a0"},
    "stroke":{"condition":{"test":"datum.c >= datum.o","value":"black"},"value":"#0000a0"}}},
  {"data":{"name":"tl"},"mark":{"type":"rule","color":"#e8383c","strokeWidth":1.3},
   "encoding":{"x":{"field":"x1","type":"quantitative"},"x2":{"field":"x2"},"y":{"field":"y1","type":"quantitative"},"y2":{"field":"y2"}}},
  {"mark":{"type":"line","opacity":0},
   "encoding":{"x":{"field":"i","type":"quantitative"},"y":{"field":"c","type":"quantitative"},
    "stroke":{"datum":"HANDLOWY","scale":{"range":["black"]},
     "legend":{"orient":"none","legendX":-2,"legendY":-15,"title":null,"symbolType":"stroke","symbolSize":160,"symbolStrokeWidth":1.2,"symbolOpacity":1,"symbolStrokeColor":"black","labelFont":"Liberation Sans","labelFontSize":10.5,"labelFontWeight":"bold","labelColor":"black","padding":1.5,"strokeColor":"black","fillColor":"#d0d0b0","labelOffset":3}}}}
 ]
},
{
 "spacing":2,"bounds":"flush",
 "resolve":{"scale":{"x":"independent","y":"independent"}},
 "vconcat":[
 {
  "width":1676,"height":105,
  "title":{"text":"VOL - Volume [26.188]","dy":17},
  "data":{"name":"c"},
  "mark":{"type":"bar","width":4,"color":"#d400d4"},
  "encoding":{
   "x":{"field":"i","type":"quantitative","scale":{"domain":[-4,195.03],"nice":false,"zero":false},
        "axis":{"values":[13.85,57.55,97.33,116.97,158.96],"grid":true,"labels":false,"ticks":false}},
   "y":{"field":"v","type":"quantitative","scale":{"domain":[-5600,239700],"nice":false,"zero":false},
        "axis":{"orient":"right","values":[0,50000,100000,150000,200000],"format":",d","grid":true,"labelOverlap":false}},
   "y2":{"datum":0}}
 },
 {
  "width":1676,"height":105,
  "title":{"text":"AD - Accumulation Distribution [25.052.254,52]","dy":17},
  "data":{"name":"ad"},
  "mark":{"type":"line","color":"#e040e0","strokeWidth":1.2},
  "encoding":{
   "x":{"field":"i","type":"quantitative","scale":{"domain":[-4,195.03],"nice":false,"zero":false},
        "axis":{"values":[13.85,57.55,97.33,116.97,158.96],"grid":true,"labels":false,"ticks":false}},
   "y":{"field":"a","type":"quantitative","scale":{"domain":[24068000,25293000],"nice":false,"zero":false},
        "axis":{"orient":"right","values":[24200000,24400000,24600000,24800000,25000000,25200000],"format":",d","grid":true,"labelOverlap":false}}}
 },
 {
  "width":1676,"height":105,
  "title":{"text":"MACD - Moving Average Conv. Div. (12,26,9) [-2,264]","dy":17},
  "resolve":{"axis":{"x":"independent","y":"independent"}},
  "layer":[
   {"data":{"name":"hh"},"mark":{"type":"bar","width":4.5,"color":"#10a010"},
    "encoding":{
     "x":{"field":"i","type":"quantitative","scale":{"domain":[-4,195.03],"nice":false,"zero":false},
          "axis":{"values":[13.85,57.55,97.33,116.97,158.96],"grid":true,"labels":false,"ticks":false}},
     "y":{"field":"h","type":"quantitative","scale":{"domain":[-3.89,2.81],"nice":false,"zero":false},
          "axis":{"orient":"right","values":[-3,-2,-1,0,1,2],"format":".1f","grid":true,"labelOverlap":false}},
     "y2":{"datum":0}}},
   {"data":{"values":[{"x1":0,"x2":189,"y":0}]},"mark":{"type":"rule","color":"black","strokeWidth":1.2},
    "encoding":{"x":{"field":"x1","type":"quantitative","axis":null},"x2":{"field":"x2"},"y":{"field":"y","type":"quantitative","axis":null}}},
   {"data":{"name":"m"},"mark":{"type":"line","color":"#7070f0","strokeWidth":1.2},
    "encoding":{"x":{"field":"i","type":"quantitative","axis":null},"y":{"field":"s","type":"quantitative","axis":null}}},
   {"data":{"name":"m"},"mark":{"type":"line","color":"#e030e0","strokeWidth":1.2},
    "encoding":{"x":{"field":"i","type":"quantitative","axis":null},"y":{"field":"m","type":"quantitative","axis":null}}},
   {"data":{"name":"ms"},"transform":[{"filter":"datum.k == 'r'"}],"mark":{"type":"rule","color":"#e02020","strokeWidth":1},
    "encoding":{"x":{"field":"i","type":"quantitative","axis":null},"y":{"field":"y","type":"quantitative","axis":null},"y2":{"datum":2.81}}},
   {"data":{"name":"ms"},"transform":[{"filter":"datum.k == 'g'"}],"mark":{"type":"rule","color":"#10a010","strokeWidth":1},
    "encoding":{"x":{"field":"i","type":"quantitative","axis":null},"y":{"field":"y","type":"quantitative","axis":null},"y2":{"datum":-3.89}}},
   {"data":{"name":"ms"},"transform":[{"filter":"datum.k == 'r'"}],"mark":{"type":"point","shape":"triangle-down","filled":true,"size":45,"color":"#e02020","opacity":1,"yOffset":4},
    "encoding":{"x":{"field":"i","type":"quantitative","axis":null},"y":{"datum":2.81,"axis":null}}},
   {"data":{"name":"ms"},"transform":[{"filter":"datum.k == 'g'"}],"mark":{"type":"point","shape":"triangle-up","filled":true,"size":45,"color":"#10a010","opacity":1,"yOffset":-4},
    "encoding":{"x":{"field":"i","type":"quantitative","axis":null},"y":{"datum":-3.89,"axis":null}}}
  ]
 },
 {
  "width":1676,"height":104.5,
  "title":{"text":"RSI - Relative Strength Index (14,30,70) [41,47]","dy":17},
  "resolve":{"axis":{"x":"independent","y":"independent"}},
  "layer":[
   {"data":{"values":[{"x1":0,"x2":189,"y":30},{"x1":0,"x2":189,"y":70}]},"mark":{"type":"rule","color":"black","strokeWidth":1.2},
    "encoding":{
     "x":{"field":"x1","type":"quantitative","scale":{"domain":[-4,195.03],"nice":false,"zero":false},
          "axis":{"values":[13.85,57.55,97.33,116.97,158.96],"grid":true,"labels":false,"ticks":false}},
     "x2":{"field":"x2"},
     "y":{"field":"y","type":"quantitative","scale":{"domain":[23.14,73.17],"nice":false,"zero":false},
          "axis":{"orient":"right","values":[30,40,50,60,70],"format":"d","grid":true,"labelOverlap":false}}}},
   {"data":{"name":"r"},"mark":{"type":"line","color":"#e030e0","strokeWidth":1.2},
    "encoding":{"x":{"field":"i","type":"quantitative","axis":null},"y":{"field":"r","type":"quantitative","axis":null}}},
   {"data":{"name":"rs"},"transform":[{"filter":"datum.k == 'g'"}],"mark":{"type":"rule","color":"#10a010","strokeWidth":1},
    "encoding":{"x":{"field":"i","type":"quantitative","axis":null},"y":{"field":"y","type":"quantitative","axis":null},"y2":{"datum":23.14}}},
   {"data":{"name":"rs"},"transform":[{"filter":"datum.k == 'r'"}],"mark":{"type":"rule","color":"#e02020","strokeWidth":1},
    "encoding":{"x":{"field":"i","type":"quantitative","axis":null},"y":{"field":"y","type":"quantitative","axis":null},"y2":{"datum":73.17}}},
   {"data":{"name":"rs"},"transform":[{"filter":"datum.k == 'g'"}],"mark":{"type":"point","shape":"triangle-up","filled":true,"size":45,"color":"#10a010","opacity":1,"yOffset":-4},
    "encoding":{"x":{"field":"i","type":"quantitative","axis":null},"y":{"datum":23.14,"axis":null}}},
   {"data":{"name":"rs"},"transform":[{"filter":"datum.k == 'r'"}],"mark":{"type":"point","shape":"triangle-down","filled":true,"size":45,"color":"#e02020","opacity":1,"yOffset":4},
    "encoding":{"x":{"field":"i","type":"quantitative","axis":null},"y":{"datum":73.17,"axis":null}}}
  ]
 }
 ]
}
],
"spacing":16.5,
"bounds":"flush",
"resolve":{"scale":{"x":"independent","y":"independent"}}
}
